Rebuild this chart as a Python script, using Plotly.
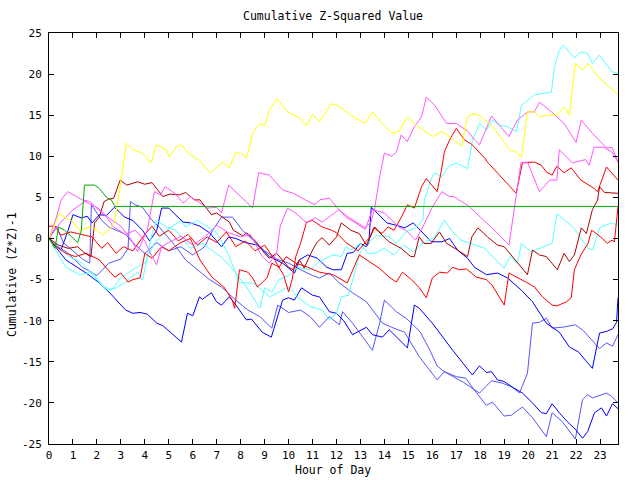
import plotly.graph_objects as go

# ---- data: (hour, cumulative value) pairs ----
yellow = [(0,0),(0.44,3.1),(0.6,2.6),(0.94,2.2),(1.27,1.0),(1.7,1.4),(2.0,1.0),(2.24,0.4),(2.5,1.0),(2.73,2.0),
          (2.95,5.9),(3.23,11.6),(3.5,10.8),(3.9,10.4),(4.26,9.2),(4.48,11.4),(4.9,10.8),(5.03,9.9),(5.3,11.1),
          (5.53,11.4),(5.8,10.4),(6.28,9.5),(6.73,8.0),(7.24,9.3),(7.53,8.6),(7.78,10.4),(8.0,10.4),(8.25,9.8),
          (8.5,12.8),(8.79,14.0),(9.0,13.7),(9.2,15.6),(9.5,17.0),(10.0,15.3),(10.45,14.7),(10.74,13.7),(11.0,15.1),
          (11.29,14.2),(11.78,16.4),(12.1,16.1),(12.7,14.8),(13.2,14.0),(13.5,15.4),(13.9,14.0),(14.3,12.8),
          (14.63,13.1),(14.96,14.8),(15.33,13.8),(16.0,12.4),(16.38,13.0),(16.63,12.6),(17.22,11.2),(17.47,14.8),
          (17.67,15.2),(17.96,15.0),(18.51,13.6),(18.93,12.0),(19.22,10.8),(19.51,10.5),(19.72,9.9),(19.97,15.4),
          (20.26,15.4),(20.47,14.8),(20.76,15.0),(21.18,15.0),(21.51,16.0),(21.72,15.0),(21.97,21.3),(22.27,20.5),
          (22.48,21.3),(22.98,19.5),(23.75,17.5)]

green = [(0,0),(0.25,-1.2),(0.4,1.4),(0.65,1.0),(0.95,0.2),(1.2,-0.5),(1.35,1.0),(1.48,6.5),(1.9,6.5),(2.1,6.1),
         (2.4,5.0),(2.6,4.7),(2.75,3.9),(23.75,3.9)]

cyan1 = [(0,0),(0.85,-2.2),(1.4,-3.0),(1.8,-4.4),(2.2,-5.7),(2.6,-6.3),(3.0,-4.8),(3.6,-3.6),(4.0,-3.0),(4.4,-0.6),
         (4.9,1.0),(5.5,2.2),(5.7,1.4),(6.2,2.2),(7.0,0.7),(7.5,-2.0),(7.95,-5.4),(8.5,-5.4),(8.9,-6.3),(9.2,-7.1),
         (9.6,-6.5),(10.0,-5.9),(10.4,-7.2),(10.9,-8.3),(11.4,-8.7),(11.7,-9.9),(12.0,-9.1),(12.2,-7.1),(12.5,-6.9),
         (12.75,-4.2),(13.0,-1.6),(13.2,-0.8),(13.7,0.4),(14.2,0.2),(14.5,-0.6),(14.9,0.8),(15.3,1.3),(15.6,2.2),
         (15.67,4.7),(15.96,7.3),(16.09,8.0),(16.38,7.5),(16.72,8.9),(17.0,9.2),(17.47,8.5),(17.68,12.0),(17.97,14.0),
         (18.26,13.2),(18.51,14.4),(18.8,13.8),(19.14,13.6),(19.51,13.0),(19.72,16.2),(19.97,16.8),(20.26,17.5),
         (20.97,17.8),(21.1,20.9),(21.3,22.9),(21.47,23.5),(21.93,22.0),(22.22,22.7),(22.48,22.5),(22.68,21.3),
         (22.98,22.3),(23.48,20.3),(23.75,20.1)]

cyan2 = [(0,0),(0.7,-3.5),(1.27,-4.4),(1.8,-4.1),(2.4,-6.3),(2.8,-6.0),(3.15,-5.4),(3.7,-4.1),(3.9,-5.1),(4.3,0.6),
         (4.5,2.2),(4.9,1.4),(5.3,1.0),(5.9,-1.2),(6.4,-0.6),(6.8,-1.4),(7.25,-2.4),(7.8,-4.2),(8.25,-5.9),(8.8,-8.5),
         (9.0,-6.0),(9.3,-6.5),(9.6,-5.0),(10.0,-4.5),(10.4,-3.5),(10.9,-3.8),(11.3,-2.8),(11.85,-2.0),(12.2,-2.2),
         (12.4,-1.0),(12.6,-1.4),(13.0,-0.6),(13.3,-1.8),(13.6,-1.8),(14.0,-1.2),(14.4,-2.0),(14.8,-0.8),(15.2,-1.6),
         (15.6,-0.6),(16.1,0.2),(16.5,2.2),(16.8,1.0),(17.2,-0.2),(17.6,-0.6),(18.2,-1.2),(18.5,-2.2),(19.0,-3.6),
         (19.25,-2.2),(19.55,-3.0),(19.72,-0.6),(20.1,-1.6),(21.0,-0.6),(21.2,3.0),(21.9,1.3),(22.5,-1.2),(22.7,-1.4),
         (22.98,1.3),(23.48,1.9),(23.75,1.6)]

magenta1 = [(0,0),(0.3,2.5),(0.51,4.7),(0.78,5.7),(1.15,5.1),(1.4,4.7),(1.7,4.5),(2.0,3.7),(2.4,2.6),(2.7,1.4),
            (3.2,0.5),(3.6,1.0),(4.0,-0.3),(4.2,-1.6),(4.49,-3.2),(4.7,-1.0),(5.0,-0.5),(5.5,0.3),(6.0,-0.8),(6.5,0.2),
            (7.0,1.6),(7.5,0.7),(8.0,0.2),(8.4,0.5),(8.9,-2.2),(9.2,-3.0),(9.5,-1.8),(9.65,1.5),(9.95,3.7),(10.3,3.1),
            (10.75,1.9),(11.1,2.5),(11.4,2.0),(11.8,2.9),(12.1,3.5),(12.5,2.6),(12.9,1.9),(13.2,1.3),(13.45,2.0),
            (13.6,3.8),(13.8,7.5),(14.0,10.4),(14.3,10.0),(14.5,10.5),(14.7,12.6),(14.95,11.8),(15.25,13.6),
            (15.55,14.8),(15.75,17.2),(16.1,16.2),(16.6,14.0),(17.0,14.0),(17.5,13.0),(17.76,12.0),(17.97,11.4),
            (18.47,14.9),(19.2,12.4),(19.55,14.4),(19.97,15.4),(20.26,15.4),(20.47,16.6),(20.97,15.4),(21.5,14.0),
            (22.0,11.7),(22.22,14.4),(22.68,12.8),(23.27,11.0),(23.5,11.1),(23.75,9.3)]

magenta2 = [(0,0),(0.5,2.0),(1.0,3.5),(1.5,4.5),(2.0,3.8),(2.5,2.5),(3.0,1.5),(3.4,0.0),(3.7,-1.6),(4.1,1.0),
            (4.4,5.7),(4.65,5.3),(4.85,6.3),(5.25,5.5),(5.6,4.3),(5.9,5.1),(6.3,4.3),(6.6,3.7),(7.0,3.8),(7.2,3.1),
            (7.5,6.5),(8.0,5.1),(8.5,3.7),(8.75,8.0),(9.2,7.7),(9.75,5.9),(10.2,5.5),(10.7,4.7),(11.1,4.1),(11.3,4.7),
            (11.7,4.9),(12.05,3.7),(12.4,2.6),(12.8,1.9),(13.2,1.1),(13.5,3.5),(14.0,3.1),(14.6,1.4),(14.9,1.0),
            (15.3,-0.2),(15.6,1.4),(16.0,3.8),(16.4,5.7),(16.7,5.1),(16.9,5.1),(17.1,4.7),(17.5,4.0),(18.0,2.6),
            (18.6,1.0),(19.2,-0.8),(19.7,9.2),(19.97,9.3),(20.47,5.7),(20.9,7.1),(21.2,7.1),(21.3,10.8),(21.85,9.2),
            (22.4,9.6),(22.55,8.9),(22.75,11.1),(23.15,11.1),(23.5,10.5),(23.75,9.3)]

red1 = [(0,1.5),(0.25,1.5),(0.5,0.4),(0.9,0.8),(1.2,0.6),(1.8,0.2),(2.2,-1.2),(2.45,-0.5),(2.8,-1.8),(3.1,-1.0),
        (3.5,-1.5),(4.0,0.5),(4.3,1.5),(4.6,0.3),(5.0,1.0),(5.4,-0.3),(5.8,0.5),(6.2,-0.8),(6.6,0.2),(7.0,-0.5),
        (7.4,0.8),(7.8,-1.0),(8.2,-0.3),(8.6,-1.5),(9.0,-0.8),(9.4,-2.5),(9.8,-4.5),(10.0,-6.5),(10.15,-5.0),
        (10.3,-2.2),(10.5,-0.6),(10.75,2.0),(11.0,2.2),(11.4,1.4),(11.8,1.0),(12.0,0.7),(12.4,-0.5),(12.9,-1.5),
        (13.2,-0.5),(13.4,0.2),(13.55,1.3),(13.9,0.6),(14.15,1.4),(14.4,1.0),(14.71,2.6),(14.96,4.1),(15.25,3.7),
        (15.55,6.3),(15.75,7.3),(16.2,5.7),(16.38,8.3),(16.5,10.5),(16.72,12.0),(17.0,13.4),(17.34,12.0),
        (17.63,11.5),(18.18,9.8),(18.3,9.3),(18.9,7.4),(19.5,5.5),(19.76,9.2),(20.26,9.3),(20.55,8.9),(20.76,8.1),
        (21.0,7.7),(21.2,8.8),(21.5,8.0),(21.8,8.6),(22.2,7.1),(22.75,6.1),(22.9,5.7),(23.27,8.7),(23.75,7.1)]

red2 = [(0,0),(0.3,-1.0),(0.7,-1.8),(1.1,-2.2),(1.55,-1.8),(2.1,-2.6),(2.4,-3.6),(2.75,-4.7),(3.0,-4.2),(3.3,-5.3),
        (3.5,-5.0),(3.8,-4.8),(4.0,-1.8),(4.3,-2.4),(4.7,-1.0),(5.0,-1.5),(5.5,-0.5),(5.9,0.0),(6.3,-2.6),(6.8,-4.7),
        (7.3,-5.9),(7.65,-7.5),(7.75,-8.5),(7.95,-3.8),(8.3,-4.1),(8.5,-4.8),(8.7,-5.9),(8.9,-5.4),(9.1,-4.8),
        (9.3,-3.0),(9.6,-3.5),(9.9,-2.2),(10.3,-3.0),(10.8,-3.5),(11.29,-4.1),(11.85,-4.4),(12.45,-5.4),(12.95,-2.0),
        (13.35,-2.8),(13.78,-3.6),(14.2,-4.7),(14.5,-5.3),(14.75,-4.1),(15.13,-5.0),(15.46,-6.0),(15.75,-7.2),
        (16.0,-4.8),(16.3,-4.1),(16.63,-4.2),(16.85,-3.5),(17.13,-3.8),(17.42,-3.7),(17.84,-4.7),(18.25,-5.0),
        (18.5,-5.7),(19.0,-8.1),(19.2,-4.2),(19.55,-4.7),(19.97,-5.4),(20.26,-5.9),(20.6,-7.1),(21.0,-8.1),
        (21.2,-8.2),(21.6,-7.7),(21.8,-7.2),(21.93,-3.8),(22.2,-2.0),(22.5,-0.6),(22.65,1.0),(22.85,0.6),(23.1,0.0),
        (23.3,-0.6),(23.5,-0.2),(23.6,-0.4),(23.75,3.9)]

darkred = [(0,0),(0.4,-0.8),(0.8,-1.2),(1.2,-1.0),(1.5,-1.8),(1.75,-2.2),(1.9,1.9),(2.1,2.6),(2.3,4.5),(2.5,4.8),
           (2.7,4.9),(2.97,7.1),(3.25,6.5),(3.7,6.9),(4.0,6.6),(4.3,6.8),(4.75,5.1),(5.05,5.4),(5.45,5.3),(5.7,5.6),
           (6.07,4.7),(6.3,4.7),(6.78,2.9),(7.0,3.1),(7.53,2.0),(7.7,1.0),(8.1,0.3),(8.25,0.7),(8.65,-0.4),(9.0,-1.8),
           (9.2,-2.4),(9.5,-1.8),(10.0,-3.5),(10.2,-3.8),(10.45,-2.6),(10.65,-3.6),(11.0,-1.4),(11.2,-0.4),(11.4,0.1),
           (11.7,-0.8),(12.0,0.2),(12.2,1.9),(12.6,1.0),(12.95,0.6),(13.25,-0.8),(13.6,1.4),(13.9,0.4),(14.2,-0.4),
           (14.7,-1.2),(15.1,-2.2),(15.25,-2.2),(15.45,0.2),(15.65,-0.6),(15.95,-0.6),(16.3,0.8),(16.6,-0.6),
           (17.05,-1.4),(17.47,-2.2),(17.65,0.2),(17.9,1.3),(18.3,0.2),(18.72,-0.8),(19.0,-1.0),(19.55,-3.0),
           (19.97,-4.4),(20.18,-1.4),(20.47,-2.0),(20.76,-2.2),(21.22,-3.8),(21.5,-1.8),(21.72,-2.8),(21.93,-2.0),
           (22.22,1.3),(22.43,0.6),(22.68,3.5),(22.9,4.7),(22.98,6.3),(23.19,5.6),(23.75,5.5)]

blue1 = [(0,0),(0.7,-2.6),(1.55,-4.2),(2.1,-5.4),(2.5,-6.5),(3.2,-8.7),(3.5,-9.1),(3.8,-9.0),(4.1,-9.2),(4.5,-10.3),
         (4.75,-10.6),(5.53,-12.6),(5.78,-9.1),(6.0,-9.4),(6.28,-7.1),(6.4,-7.4),(6.78,-6.6),(6.99,-7.7),(7.2,-8.1),
         (7.53,-7.1),(7.8,-8.1),(8.24,-9.9),(8.45,-9.8),(8.9,-11.4),(9.28,-12.0),(9.75,-7.5),(10.0,-7.2),
         (10.24,-7.5),(10.54,-6.0),(11.0,-6.9),(11.29,-7.1),(11.7,-8.9),(12.0,-9.1),(12.3,-10.0),(12.67,-11.7),
         (13.25,-10.8),(13.5,-11.7),(13.92,-12.0),(14.2,-11.1),(14.96,-13.3),(15.25,-8.1),(15.46,-8.5),(16.0,-10.3),
         (16.85,-13.6),(17.67,-16.6),(17.97,-15.5),(18.26,-16.3),(18.47,-16.2),(18.72,-17.2),(19.0,-17.4),
         (19.35,-18.1),(19.76,-18.8),(20.18,-20.0),(20.55,-21.2),(20.76,-21.3),(21.0,-20.1),(21.3,-21.2),
         (21.64,-22.3),(22.0,-23.3),(22.27,-24.3),(22.48,-23.5),(22.77,-21.2),(23.06,-20.6),(23.27,-21.6),
         (23.52,-20.1),(23.75,-20.7)]

blue2 = [(0,0),(0.5,-1.4),(0.8,1.0),(1.0,2.9),(1.35,2.5),(1.6,2.7),(1.8,1.9),(2.1,2.9),(2.4,2.8),(2.73,3.8),
         (2.95,3.2),(3.15,2.6),(3.5,2.2),(3.9,1.0),(4.2,-0.3),(4.5,1.0),(4.7,3.7),(5.0,3.7),(5.2,3.1),(5.6,2.0),
         (5.9,1.9),(6.3,1.5),(6.7,0.7),(7.2,-1.0),(7.5,0.2),(7.8,0.0),(8.2,-0.5),(8.7,-0.8),(9.2,-2.2),(9.75,-3.0),
         (10.0,-3.6),(10.25,-4.2),(10.45,-2.6),(10.8,-2.0),(11.2,-2.4),(11.6,-3.5),(11.85,-3.8),(12.2,-3.8),
         (12.45,-1.8),(12.7,-1.7),(13.0,-0.6),(13.25,-1.0),(13.35,-0.5),(13.45,3.8),(13.7,3.1),(14.1,1.9),(14.5,1.6),
         (14.85,1.3),(15.2,1.9),(15.55,0.8),(15.96,-0.4),(16.4,-0.4),(16.72,0.0),(17.05,-1.4),(17.47,-2.4),
         (17.76,-3.5),(18.26,-4.4),(18.72,-4.2),(19.14,-4.8),(19.72,-6.3),(20.18,-7.7),(20.67,-9.9),(20.76,-10.3),
         (21.3,-11.4),(21.72,-13.2),(22.1,-13.8),(22.68,-15.8),(22.98,-11.5),(23.27,-11.3),(23.52,-11.0),
         (23.69,-10.2),(23.75,-7.2)]

lightblue1 = [(0,0),(0.3,1.5),(0.6,-0.5),(1.0,-1.5),(1.4,-2.5),(1.7,-3.0),(1.77,4.1),(2.0,3.1),(2.2,2.2),(2.5,1.4),
              (2.8,1.0),(3.2,0.5),(3.5,-0.5),(4.0,-1.8),(4.5,-0.5),(5.0,-1.5),(5.5,-1.0),(6.0,-2.0),(6.5,-1.0),
              (6.83,1.0),(7.2,2.6),(7.66,2.6),(8.07,1.0),(8.5,-0.2),(9.0,-1.5),(9.5,-2.5),(10.0,-3.0),(10.5,-3.8),
              (11.0,-4.5),(11.29,-4.8),(11.7,-4.2),(12.12,-5.4),(12.67,-6.6),(13.25,-7.7),(13.5,-8.7),(13.92,-10.3),
              (14.3,-10.8),(14.84,-11.4),(15.46,-14.4),(16.2,-17.2),(16.5,-16.2),(17.0,-16.8),(17.4,-17.0),
              (17.67,-18.1),(18.25,-20.3),(18.51,-19.9),(19.0,-21.6),(19.3,-21.5),(19.76,-20.5),(20.18,-21.8),
              (20.76,-24.1),(21.0,-21.2),(21.43,-22.3),(21.97,-24.4),(22.27,-19.6),(22.48,-19.0),(22.68,-19.4),
              (23.27,-18.8),(23.48,-19.2),(23.75,-20.0)]

lightblue2 = [(0,0),(0.4,-1.0),(0.8,-1.8),(1.4,-3.5),(2.0,-4.5),(2.5,-3.0),(3.0,-2.5),(3.3,-1.2),(3.4,4.5),(3.6,4.1),
              (3.9,3.8),(4.3,2.2),(4.6,1.4),(5.0,0.0),(5.3,-1.0),(5.7,-2.6),(6.2,-3.8),(6.7,-5.0),(7.2,-5.9),
              (7.8,-7.5),(8.3,-8.7),(8.8,-9.5),(9.3,-10.9),(9.55,-8.1),(10.0,-9.0),(10.5,-8.7),(10.9,-9.5),
              (11.29,-10.8),(11.7,-9.5),(12.12,-10.5),(12.25,-8.9),(12.67,-10.3),(13.1,-12.0),(13.5,-13.6),
              (13.8,-10.3),(14.0,-7.5),(14.5,-8.9),(14.9,-9.7),(15.2,-10.5),(15.5,-11.4),(15.9,-13.6),(16.2,-15.5),
              (16.5,-16.2),(16.9,-16.8),(17.3,-17.5),(17.97,-18.8),(18.47,-17.3),(18.93,-17.6),(19.35,-18.1),
              (19.64,-18.8),(19.97,-16.4),(20.18,-10.3),(20.47,-10.2),(20.76,-9.7),(21.0,-10.9),(21.43,-10.8),
              (21.97,-10.5),(22.3,-11.2),(22.98,-13.4),(23.27,-12.7),(23.52,-13.1),(23.75,-11.7)]

series = [
    (lightblue1, "#5555ff"), (lightblue2, "#5555ff"), (blue1, "#0000ff"), (blue2, "#0000ff"),
    (cyan1, "#55ffff"), (cyan2, "#55ffff"), (red2, "#ff0000"), (red1, "#ff0000"), (darkred, "#b00000"),
    (magenta1, "#ff55ff"), (magenta2, "#ff55ff"), (yellow, "#ffff00"), (green, "#00aa00"),
]

x_ticks = list(range(0, 24))
y_ticks = list(range(-25, 26, 5))

FONT = "DejaVu Sans Mono"

fig = go.Figure()
for pts, col in series:
    fig.add_trace(go.Scatter(x=[p[0] for p in pts], y=[p[1] for p in pts], mode="lines",
                             line=dict(color=col, width=1), showlegend=False, hoverinfo="skip"))

L, R, T, B = 49, 618, 33, 444
W, H = 640, 480
def px(xp): return (xp - L) / (R - L)
def py(yp): return (B - yp) / (B - T)

axis_common = dict(showgrid=False, zeroline=False, showline=True, linecolor="black", linewidth=1,
                   mirror="ticks", ticks="inside", ticklen=5, tickcolor="black", tickwidth=1,
                   tickfont=dict(family=FONT, size=11, color="black"))
fig.update_xaxes(range=[0, 23.75], tickvals=x_ticks, ticktext=[str(t) for t in x_ticks],
                 ticklabelstandoff=1, **axis_common)
fig.update_yaxes(range=[-25, 25], tickvals=y_ticks, ticktext=[str(t) for t in y_ticks],
                 ticklabelstandoff=4, **axis_common)

fig.update_layout(
    width=W, height=H, margin=dict(l=L, r=W - R, t=T, b=H - B, pad=0),
    paper_bgcolor="white", plot_bgcolor="white",
    annotations=[
        dict(text="Cumulative Z-Squared Value", xref="paper", yref="paper", x=px(333), y=py(16),
             xanchor="center", yanchor="middle", showarrow=False, font=dict(family=FONT, size=11.5, color="black")),
        dict(text="Hour of Day", xref="paper", yref="paper", x=px(333), y=py(470),
             xanchor="center", yanchor="middle", showarrow=False, font=dict(family=FONT, size=11.5, color="black")),
        dict(text="Cumulative (Z*Z)-1", xref="paper", yref="paper", x=px(12), y=py(275), textangle=-90,
             xanchor="center", yanchor="middle", showarrow=False, font=dict(family=FONT, size=11.5, color="black")),
    ],
)

fig.write_html("out.html")
